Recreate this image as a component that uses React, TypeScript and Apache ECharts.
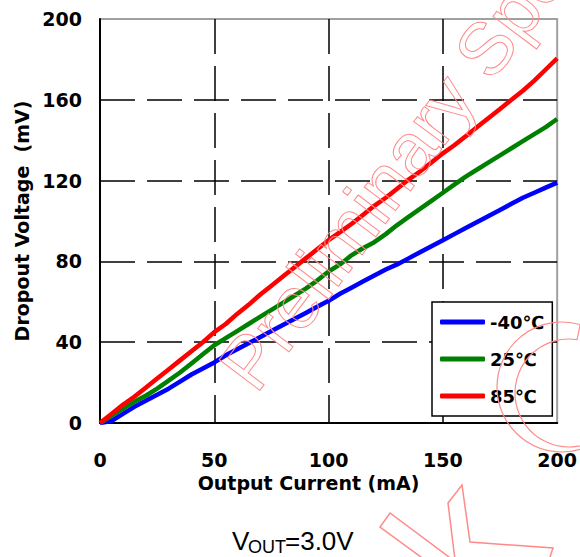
import React, { useEffect, useRef } from 'react';
import * as echarts from 'echarts';

// Output current (mA)
const currentMA = [0, 5, 10, 15, 20, 25, 30, 35, 40, 45, 50, 55, 60, 65, 70, 75, 80, 85, 90, 95, 100, 105, 110, 115, 120, 125, 130, 135, 140, 145, 150, 155, 160, 165, 170, 175, 180, 185, 190, 195, 200];

// Dropout voltage (mV)
const dropoutMinus40C = [0, 1, 4.5, 8, 11, 14, 17, 20.5, 24, 27, 30, 33.5, 36.5, 39.5, 42.5, 45.5, 48.5, 51.5, 54.5, 57.5, 60.5, 64, 67, 70, 73, 76, 78.5, 81.5, 84.5, 87.5, 90.5, 93.5, 96.5, 99.5, 102.5, 105.5, 108.5, 111.5, 114, 116.5, 119];
const dropout25C = [0, 3.5, 7, 10.5, 13.5, 17, 21, 25, 29.5, 34, 38.5, 42, 45.5, 49, 52.5, 56, 59.5, 63, 66.5, 70.5, 75, 78.5, 83, 86.5, 89.5, 93.5, 98, 102, 106, 110, 114, 118, 122, 125.5, 129, 132.5, 136, 139.5, 143, 146.5, 150.5];
const dropout85C = [0, 4.5, 9, 13, 17.5, 22, 26.5, 31, 35.5, 40, 45, 49, 54, 58.5, 63.5, 68, 72.5, 77, 81.5, 86, 90.5, 94.5, 98.5, 103, 107.5, 111.5, 116, 120.5, 124.5, 129, 133.5, 137.5, 142, 146.5, 151, 155.5, 160, 164.5, 169.5, 175, 180.5];

const seriesNames = ['-40℃', '25℃', '85℃'];
const seriesColors = ['#0000ff', '#008000', '#ff0000'];

const xAxisTitle = 'Output Current (mA)';
const yAxisTitle = 'Dropout Voltage  (mV)';
const watermarkText = 'Preliminary Specification';

const TICK_FONT = 'DejaVu Sans';
const WM = '#ff8a8a';

export default function App() {
  const ref = useRef<HTMLDivElement>(null);

  useEffect(() => {
    const chart = echarts.init(ref.current!, null, { renderer: 'svg' });
    const pairs = (ys: number[]) => currentMA.map((x, i) => [x, ys[i]]);
    const allSeries = [dropoutMinus40C, dropout25C, dropout85C];
    const deg = Math.PI / 180;

    chart.setOption({
      animation: false,
      backgroundColor: '#ffffff',
      grid: {
        left: 100,
        top: 19,
        width: 461,
        height: 404,
        show: true,
        borderColor: '#a0a0a0',
        borderWidth: 2,
        backgroundColor: 'transparent',
      },
      xAxis: {
        type: 'value',
        min: 0,
        max: 200,
        interval: 50,
        name: xAxisTitle,
        nameLocation: 'middle',
        nameGap: 50,
        nameTextStyle: {
          fontFamily: TICK_FONT,
          fontWeight: 'bold',
          fontSize: 19,
          color: '#000',
          padding: [0, 40, 0, 0],
        },
        axisLine: { show: true, lineStyle: { color: '#000', width: 2 } },
        axisTick: { show: false },
        axisLabel: {
          margin: 27,
          fontFamily: TICK_FONT,
          fontWeight: 'bold',
          fontSize: 19,
          color: '#000',
        },
        splitLine: {
          show: true,
          showMinLine: false,
          showMaxLine: false,
          lineStyle: { color: '#000', width: 1.5, type: [35, 12] },
        },
      },
      yAxis: {
        type: 'value',
        min: 0,
        max: 200,
        interval: 40,
        name: yAxisTitle,
        nameLocation: 'middle',
        nameGap: 66,
        nameTextStyle: {
          fontFamily: TICK_FONT,
          fontWeight: 'bold',
          fontSize: 19,
          color: '#000',
        },
        axisLine: { show: true, lineStyle: { color: '#000', width: 2 } },
        axisTick: { show: false },
        axisLabel: {
          margin: 18,
          fontFamily: TICK_FONT,
          fontWeight: 'bold',
          fontSize: 19,
          color: '#000',
        },
        splitLine: {
          show: true,
          showMinLine: false,
          showMaxLine: false,
          lineStyle: { color: '#000', width: 1.5, type: [35, 12] },
        },
      },
      legend: {
        orient: 'vertical',
        left: 432,
        top: 302,
        data: seriesNames,
        icon: 'roundRect',
        itemWidth: 45,
        itemHeight: 5,
        itemGap: 17,
        padding: [10, 8, 10, 8],
        backgroundColor: '#fff',
        borderColor: '#000',
        borderWidth: 1.5,
        borderRadius: 0,
        textStyle: {
          fontFamily: TICK_FONT,
          fontWeight: 'bold',
          fontSize: 18,
          lineHeight: 20,
          color: '#000',
        },
        z: 5,
      },
      series: allSeries.map((ys, i) => ({
        type: 'line',
        name: seriesNames[i],
        data: pairs(ys),
        showSymbol: false,
        symbol: 'none',
        color: seriesColors[i],
        lineStyle: { color: seriesColors[i], width: 4.5 },
        z: 3 + i,
      })),
      graphic: [
        {
          type: 'text',
          x: 232,
          y: 541,
          silent: true,
          style: { text: 'V', fontFamily: 'Liberation Sans', fontSize: 26, fill: '#000', textAlign: 'left', textVerticalAlign: 'middle', align: 'left', verticalAlign: 'middle' },
        },
        {
          type: 'text',
          x: 248,
          y: 547,
          silent: true,
          style: { text: 'OUT', fontFamily: 'Liberation Sans', fontSize: 18, fill: '#000', textAlign: 'left', textVerticalAlign: 'middle', align: 'left', verticalAlign: 'middle' },
        },
        {
          type: 'text',
          x: 285,
          y: 541,
          silent: true,
          style: { text: '=3.0V', fontFamily: 'Liberation Sans', fontSize: 26, fill: '#000', textAlign: 'left', textVerticalAlign: 'middle', align: 'left', verticalAlign: 'middle' },
        },
        {
          type: 'text',
          x: 236,
          y: 380,
          rotation: 53 * deg,
          silent: true,
          z: 100,
          style: {
            text: watermarkText,
            fontFamily: 'Liberation Sans',
            fontSize: 74,
            fill: 'none',
            stroke: WM,
            lineWidth: 1,
            textAlign: 'left',
            textVerticalAlign: 'middle',
            align: 'left',
            verticalAlign: 'middle',
          },
        },
        {
          type: 'arc',
          silent: true,
          z: 100,
          shape: { cx: 562, cy: 387, r: 65, startAngle: 70 * deg, endAngle: 286 * deg, clockwise: true },
          style: { stroke: WM, fill: 'none', lineWidth: 1.2 },
        },
        {
          type: 'arc',
          silent: true,
          z: 100,
          shape: { cx: 569, cy: 393, r: 54, startAngle: 60 * deg, endAngle: 278.6 * deg, clockwise: true },
          style: { stroke: WM, fill: 'none', lineWidth: 1.2 },
        },
        {
          type: 'line',
          silent: true,
          z: 100,
          shape: { x1: 580, y1: 325, x2: 577, y2: 340 },
          style: { stroke: WM, lineWidth: 1.2 },
        },
        {
          type: 'polyline',
          silent: true,
          z: 100,
          shape: { points: [[425, 560], [380, 527], [390, 513], [453, 560]] },
          style: { stroke: WM, fill: 'none', lineWidth: 1.5 },
        },
        {
          type: 'polyline',
          silent: true,
          z: 100,
          shape: { points: [[455, 560], [448, 503], [462, 485], [470, 542], [553, 548], [549, 560]] },
          style: { stroke: WM, fill: 'none', lineWidth: 1.5 },
        },
      ],
    });

    return () => chart.dispose();
  }, []);

  return (
    <div
      ref={ref}
      style={{ position: 'fixed', left: 0, top: 0, width: 580, height: 557, background: '#fff' }}
    />
  );
}
